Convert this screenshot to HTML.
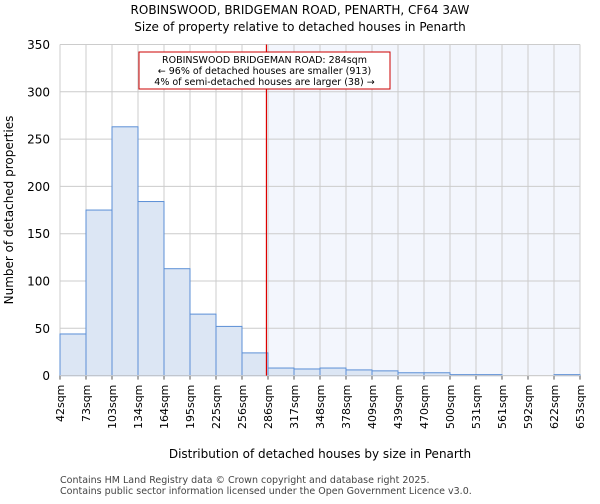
<!DOCTYPE html>
<html><head><meta charset="utf-8"><style>
body{margin:0;background:#fff;font-family:"DejaVu Sans","Liberation Sans",sans-serif}
</style></head><body>
<svg width="600" height="500" xmlns="http://www.w3.org/2000/svg" font-family="DejaVu Sans, Liberation Sans, sans-serif">
<text x="300" y="14" font-size="12" text-anchor="middle">ROBINSWOOD, BRIDGEMAN ROAD, PENARTH, CF64 3AW</text>
<text x="300" y="31" font-size="12" text-anchor="middle">Size of property relative to detached houses in Penarth</text>
<g id="grid"></g>
<g id="bars"></g>
<g id="axes"></g>
<text x="320" y="458" font-size="12" text-anchor="middle">Distribution of detached houses by size in Penarth</text>
<text transform="translate(13,210) rotate(-90)" font-size="12" text-anchor="middle">Number of detached properties</text>
<rect x="139" y="52" width="251" height="37" fill="#fff" stroke="#c00" stroke-width="1"/>
<text x="264.5" y="63" font-size="9.5" text-anchor="middle">ROBINSWOOD BRIDGEMAN ROAD: 284sqm</text>
<text x="264.5" y="74" font-size="9.5" text-anchor="middle">← 96% of detached houses are smaller (913)</text>
<text x="264.5" y="85" font-size="9.5" text-anchor="middle">4% of semi-detached houses are larger (38) →</text>
<text x="60" y="483" font-size="9.5" fill="#444">Contains HM Land Registry data © Crown copyright and database right 2025.</text>
<text x="60" y="494" font-size="9.5" fill="#444">Contains public sector information licensed under the Open Government Licence v3.0.</text>
</svg>
<script>
const categories=["42sqm","73sqm","103sqm","134sqm","164sqm","195sqm","225sqm","256sqm","286sqm","317sqm","348sqm","378sqm","409sqm","439sqm","470sqm","500sqm","531sqm","561sqm","592sqm","622sqm","653sqm"];
const counts=[44,175,263,184,113,65,52,24,8,7,8,6,5,3,3,1,1,0,0,1];
const yTicks=[0,50,100,150,200,250,300,350];
const markerBin=7.94;
const NS="http://www.w3.org/2000/svg";
const L=60,R=580,T=44.5,B=375.6,YMAX=350;
const bw=(R-L)/counts.length;
const x=i=>L+i*bw;
const y=v=>B-(v/YMAX)*(B-T);
function mk(tag,attrs,parent){const e=document.createElementNS(NS,tag);for(const k in attrs)e.setAttribute(k,attrs[k]);parent.appendChild(e);return e;}
const grid=document.getElementById('grid'),bars=document.getElementById('bars'),axes=document.getElementById('axes');
const mx=x(markerBin);
const sh=mk('rect',{x:x(8),y:T,width:R-x(8),height:B-T,fill:'#f3f6fd'},grid);


yTicks.forEach(t=>{
 const g=mk('line',{x1:L,x2:R,y1:y(t),y2:y(t),stroke:'#ccc'},grid);
 
 
 const lb=mk('text',{x:L-10,y:y(t)+4.5,'font-size':12,'text-anchor':'end'},axes);
 lb.textContent=t;
 
 
});
categories.forEach((c,i)=>{
 const g=mk('line',{x1:x(i),x2:x(i),y1:T,y2:B,stroke:'#ccc'},grid);
 
 
 const tk=mk('line',{x1:x(i),x2:x(i),y1:B,y2:B+4,stroke:'#555'},axes);
 
 
 const lb=mk('text',{transform:`translate(${x(i)+4},${B+9}) rotate(-90)`,'font-size':11,'text-anchor':'end'},axes);
 lb.textContent=c;
 
 
});
counts.forEach((v,i)=>{
 if(v<=0)return;
 const r=mk('rect',{x:x(i),y:y(v),width:bw,height:B-y(v),fill:'#dce6f4',stroke:'#5b8fd6','stroke-width':1},bars);
 
 
});
const ax=mk('line',{x1:L,x2:R,y1:B,y2:B,stroke:'#ccc'},axes);


const ml=mk('line',{x1:mx,x2:mx,y1:T,y2:B,stroke:'#d00','stroke-width':1.2},axes);


</script>
</body></html>
